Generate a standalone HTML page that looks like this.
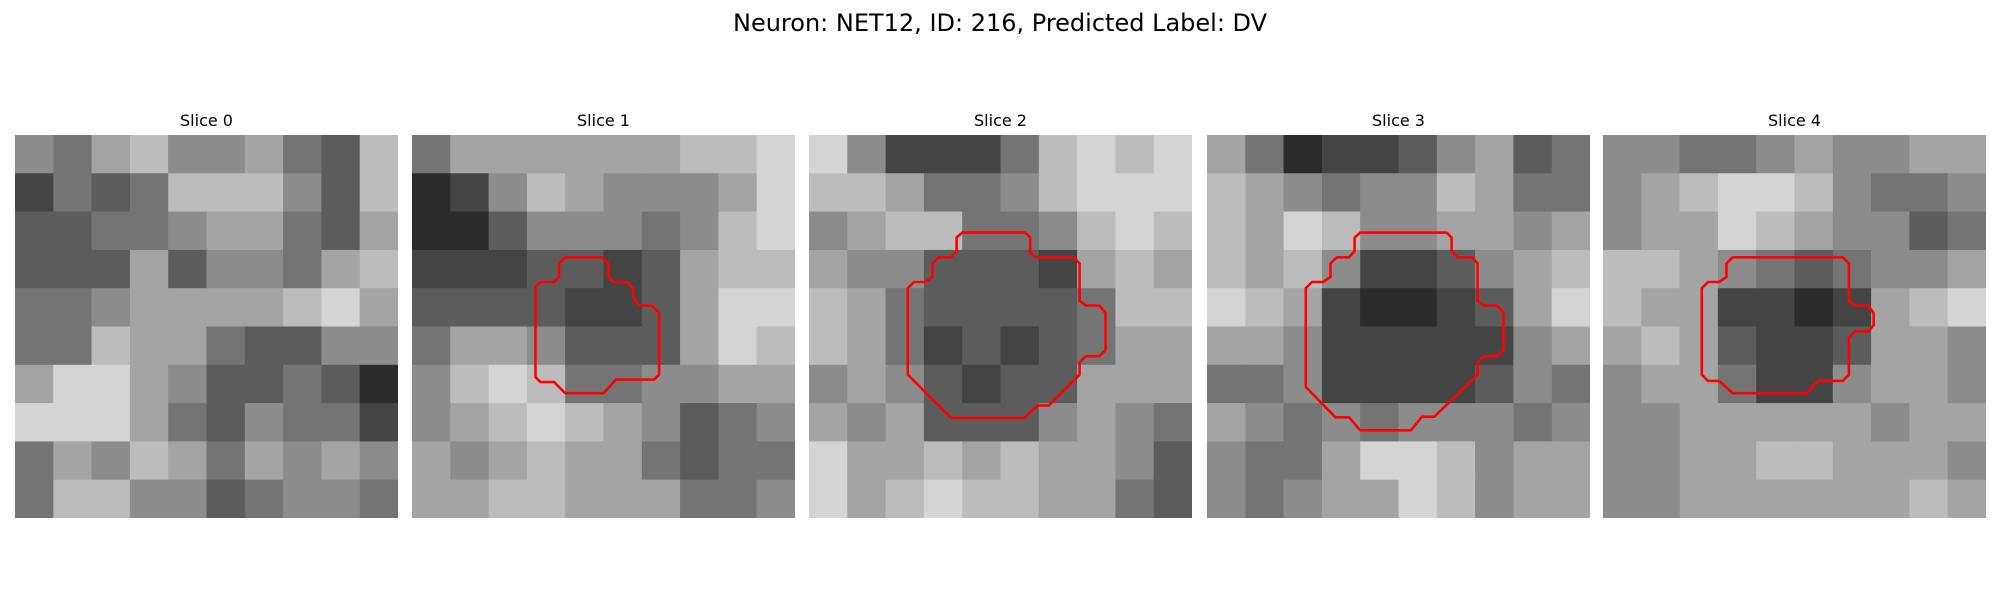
<!DOCTYPE html>
<html><head><meta charset="utf-8">
<style>
html,body{margin:0;padding:0;background:#fff;}
svg{display:block;font-family:"DejaVu Sans","Liberation Sans",sans-serif;}
</style></head>
<body>
<svg id="fig" width="2000" height="600" viewBox="0 0 2000 600" xmlns="http://www.w3.org/2000/svg">
<rect width="2000" height="600" fill="#fff"/>
<text x="1000" y="31" text-anchor="middle" font-size="24" fill="#000">Neuron: NET12, ID: 216, Predicted Label: DV</text>
</svg>
<script>
const sliceTitles = ["Slice 0","Slice 1","Slice 2","Slice 3","Slice 4"];
// coarse brightness (0=black, 9=white), 10x10 blocks per slice
const slice0 = [
[5,4,6,7,5,5,6,4,3,7],[2,4,3,4,7,7,7,5,3,7],[3,3,4,4,5,6,6,4,3,6],[3,3,3,6,3,5,5,4,6,7],
[4,4,5,6,6,6,6,7,8,6],[4,4,7,6,6,4,3,3,5,5],[6,8,8,6,5,3,3,4,3,1],[8,8,8,6,4,3,5,4,4,2],
[4,6,5,7,6,4,6,5,6,5],[4,7,7,5,5,3,4,5,5,4]];
const slice1 = [
[4,6,6,6,6,6,6,7,7,8],[1,2,5,7,6,5,5,5,6,8],[1,1,3,5,5,5,4,5,7,8],[2,2,2,3,3,2,3,6,7,7],
[3,3,3,3,2,2,3,6,8,8],[4,6,6,5,3,3,3,6,8,7],[5,7,8,7,4,4,5,5,6,6],[5,6,7,8,7,6,5,3,4,5],
[6,5,6,7,6,6,4,3,4,4],[6,6,7,7,6,6,6,4,4,5]];
const slice2 = [
[8,5,2,2,2,4,7,8,7,8],[7,7,6,4,4,5,7,8,8,8],[5,6,7,7,4,4,5,7,8,7],[6,5,5,3,3,3,2,6,7,6],
[7,6,4,3,3,3,3,4,7,7],[7,6,4,2,3,2,3,4,6,6],[5,6,5,3,2,3,3,6,6,6],[6,5,6,3,3,3,5,6,5,4],
[8,6,6,7,6,7,6,6,5,3],[8,6,7,8,7,7,6,6,4,3]];
const slice3 = [
[6,4,1,2,2,3,5,6,3,4],[7,6,5,4,5,5,7,6,4,4],[7,6,8,7,5,5,6,6,5,6],[7,6,7,5,2,2,3,5,6,7],
[8,7,6,2,1,1,2,3,6,8],[6,6,5,2,2,2,2,2,5,6],[4,4,5,2,2,2,2,3,5,4],[6,5,4,5,4,5,5,5,4,5],
[5,4,4,6,8,8,7,5,6,6],[5,4,5,6,6,8,7,5,6,6]];
const slice4 = [
[5,5,4,4,5,6,5,5,6,6],[5,6,7,8,8,7,5,4,4,5],[5,6,6,8,7,6,5,5,3,4],[7,7,6,5,4,3,4,5,5,6],
[7,6,6,2,2,1,2,6,7,8],[6,7,6,3,2,2,3,6,6,5],[5,6,6,4,2,2,5,6,6,5],[5,5,6,6,6,6,6,5,6,6],
[5,5,6,6,7,7,6,6,6,5],[5,5,6,6,6,6,6,6,7,6]];
const slices = [slice0,slice1,slice2,slice3,slice4];
// ROI contours in pixel-grid units (31x31 grid)
const contour0 = [];
const contour1 = [[12.4,9.9],[15.4,9.9],[15.9,10.4],[15.9,11.5],[16.3,11.9],[17.4,11.9],[17.9,12.4],[17.9,13.1],[18.4,13.8],[19.4,13.8],[20,14.4],[20,19.4],[19.6,19.8],[16.5,19.8],[15.5,20.9],[12.4,20.9],[11.5,20],[10.4,20],[10,19.6],[10,12.3],[10.4,11.9],[11.5,11.9],[11.9,11.5],[11.9,10.4]];
const contour2 = [[12.4,7.9],[17.5,7.9],[17.9,8.3],[17.9,9.5],[18.35,9.9],[21.45,9.9],[21.9,10.4],[21.9,13.4],[22.4,13.8],[23.5,13.8],[24,14.4],[24,17.4],[23.5,17.9],[22.4,17.9],[21.9,18.4],[21.9,19.4],[19.4,21.9],[18.5,21.9],[17.4,22.9],[11.5,22.9],[8,19.4],[8,12.4],[8.5,11.9],[9.4,11.9],[10,11.5],[10,10.4],[10.5,9.9],[11.5,9.9],[11.95,9.4],[11.95,8.3]];
const contour3 = [[12.4,7.9],[19.4,7.9],[19.8,8.3],[19.8,9.4],[20.3,9.9],[21.45,9.9],[21.9,10.4],[21.9,13.4],[22.4,13.8],[23.5,13.8],[24,14.4],[24,17.4],[23.5,17.9],[22.4,17.9],[21.9,18.4],[21.9,19.4],[18.4,22.8],[17.4,22.8],[16.5,23.9],[12.4,23.9],[11.5,22.85],[10.4,22.85],[8,20.4],[8,12.4],[8.5,11.9],[9.4,11.9],[10,11.5],[10,10.4],[10.5,9.9],[11.5,9.9],[11.95,9.4],[11.95,8.3]];
const contour4 = [[10.5,9.9],[19.4,9.9],[19.9,10.4],[19.9,13.4],[20.4,13.8],[21.45,13.8],[21.9,14.4],[21.9,15.4],[21.45,15.9],[20.4,15.9],[19.9,16.4],[19.9,19.4],[19.4,19.9],[17.4,19.9],[16.5,20.9],[10.5,20.9],[9.4,19.9],[8.5,19.9],[8,19.4],[8,12.4],[8.5,11.9],[9.4,11.9],[10,11.5],[10,10.4]];
const contours = [contour0,contour1,contour2,contour3,contour4];

const NS = "http://www.w3.org/2000/svg";
const svg = document.getElementById('fig');
const panelLeft = [15,412,809,1207,1603];
const panelTop = 135, panelSize = 383, gridN = 31;
const gray = v => { const g = Math.round(20 + v * 24); return `rgb(${g},${g},${g})`; };
const xCell = (p, c) => panelLeft[p] + c * panelSize / gridN;
const yCell = c => panelTop + c * panelSize / gridN;

slices.forEach((grid, p) => {
  const g = document.createElementNS(NS, 'g');
  
  
  svg.appendChild(g);
  const t = document.createElementNS(NS, 'text');
  
  
  t.setAttribute('x', panelLeft[p] + panelSize / 2);
  t.setAttribute('y', 126);
  t.setAttribute('text-anchor', 'middle');
  t.setAttribute('font-size', '16');
  t.textContent = sliceTitles[p];
  g.appendChild(t);
  const n = grid.length;
  const bw = panelSize / n;
  grid.forEach((row, r) => row.forEach((v, c) => {
    const rc = document.createElementNS(NS, 'rect');
    
    
    rc.setAttribute('x', (panelLeft[p] + c * bw).toFixed(2));
    rc.setAttribute('y', (panelTop + r * bw).toFixed(2));
    rc.setAttribute('width', (bw + (c < n - 1 ? 0.6 : 0)).toFixed(2));
    rc.setAttribute('height', (bw + (r < n - 1 ? 0.6 : 0)).toFixed(2));
    rc.setAttribute('fill', gray(v));
    g.appendChild(rc);
  }));
  const pts = contours[p];
  if (pts.length) {
    const pl = document.createElementNS(NS, 'polygon');
    
    
    pl.setAttribute('points', pts.map(q => xCell(p, q[0]).toFixed(1) + ',' + yCell(q[1]).toFixed(1)).join(' '));
    pl.setAttribute('fill', 'none');
    pl.setAttribute('stroke', '#ff0000');
    pl.setAttribute('stroke-width', '2.6');
    pl.setAttribute('stroke-linejoin', 'round');
    g.appendChild(pl);
  }
});
</script>
</body></html>
